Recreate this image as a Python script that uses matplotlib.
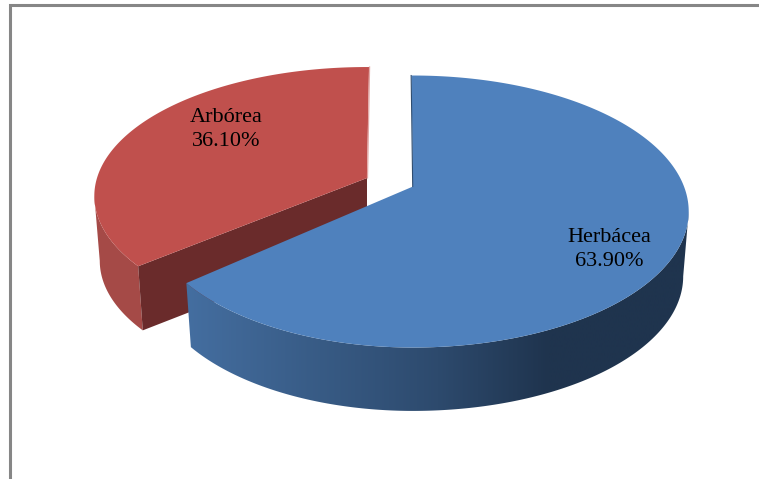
import numpy as np
import matplotlib
matplotlib.use("Agg")
import matplotlib.pyplot as plt
from matplotlib.patches import Polygon

plt.rcParams['font.family'] = ['Liberation Serif', 'DejaVu Serif']

labels = ['Herbácea', 'Arbórea']
shares = [63.90, 36.10]
pct_labels = ['63.90%', '36.10%']

BLUE = '#4f81bd'
RED = '#c0504d'
RED_SIDE = '#a54a47'
RED_CUT = '#6a2b2b'


def project(theta, cx, cy, ax_l, ax_r, b, k):
    # clockwise angle from 12 o'clock, seen through a simple perspective
    u = np.sin(theta)
    v = np.cos(theta)
    w = 1 + k * v
    a = np.where(u < 0, ax_l, ax_r)
    return cx + a * u / w, cy - b * v / w


def ring(theta, geo, depth=0):
    cx, cy, ax_l, ax_r, b, k = geo
    if depth:
        return project(theta, cx, cy + depth, ax_l * 0.98, ax_r * 0.98, b * 0.99, k)
    return project(theta, cx, cy, ax_l, ax_r, b, k)


fig = plt.figure(figsize=(7.59, 4.79), dpi=100)
ax = fig.add_axes([0, 0, 1, 1])
ax.axis('off')

# chart frame
ax.plot([9.5, 9.5, 759], [479, 5, 5], color='#868686', lw=2.2, solid_joinstyle='miter')

split = shares[0] / sum(shares) * 2 * np.pi
blue_geo = (413, 186.5, 262, 271, 131.4, 0.184)
red_geo = (367, 178, 270, 270, 126.5, 0.14)
blue_depth = 65
red_depth = 65

# exploded slice; its wall stops at the silhouette on the far left
t = np.linspace(split + np.radians(0.5), 2 * np.pi + np.radians(0.5), 200)
ux, uy = ring(t, red_geo)
t_wall = np.linspace(split + np.radians(0.5), 2 * np.pi - np.arccos(-red_geo[5]), 120)
wx, wy = ring(t_wall, red_geo)
lx, ly = ring(t_wall, red_geo, red_depth)
ax.add_patch(Polygon(np.r_[np.c_[wx, wy], np.c_[lx, ly][::-1]], fc=RED_SIDE, ec='none'))
ax.add_patch(Polygon([(red_geo[0], red_geo[1]), (ux[0], uy[0]), (lx[0], ly[0]),
                      (red_geo[0], red_geo[1] + red_depth)], fc=RED_CUT, ec='none'))
ax.add_patch(Polygon(np.r_[[(red_geo[0], red_geo[1])], np.c_[ux, uy]], fc=RED, ec='none'))
ax.plot([red_geo[0] + 0.5, ux[-1] + 0.5], [red_geo[1], uy[-1]], color='#e2a9a7', lw=0.9)

# main slice, side wall shaded left to right
t = np.linspace(np.radians(-0.4), split + np.radians(-0.4), 300)
ux, uy = ring(t, blue_geo)
t_wall = np.linspace(np.arccos(-blue_geo[5]), split + np.radians(-0.4), 200)
wx, wy = ring(t_wall, blue_geo)
lx, ly = ring(t_wall, blue_geo, blue_depth)
wall = Polygon(np.r_[np.c_[wx, wy], np.c_[lx, ly][::-1]], fc='none', ec='none')
ax.add_patch(wall)
shade = np.interp(np.linspace(0, 1, 256), [0, 0.5, 0.72, 1], [0, 0.62, 1, 1])
c0 = np.array([68, 110, 160]) / 255
c1 = np.array([31, 52, 78]) / 255
grad = c0[None, None, :] * (1 - shade[None, :, None]) + c1[None, None, :] * shade[None, :, None]
im = ax.imshow(grad, extent=[186, 690, 479, 0], aspect='auto', zorder=2, interpolation='bilinear')
im.set_clip_path(wall)
ax.add_patch(Polygon(np.r_[[(blue_geo[0], blue_geo[1])], np.c_[ux, uy]], fc=BLUE, ec='none', zorder=3))
ax.plot([ux[0] - 0.3, blue_geo[0] - 0.3], [uy[0], blue_geo[1]], color='#2f4d70', lw=0.8, zorder=3)

ax.set_xlim(0, 759)
ax.set_ylim(479, 0)

ax.text(609, 237.5, labels[0], fontsize=16, ha='center', va='center', color='black', zorder=4)
ax.text(609, 262, pct_labels[0], fontsize=16, ha='center', va='center', color='black', zorder=4)
ax.text(226, 117.5, labels[1], fontsize=16, ha='center', va='center', color='black', zorder=4)
ax.text(226, 142, pct_labels[1], fontsize=16, ha='center', va='center', color='black', zorder=4)

fig.savefig('out.png', dpi=100, facecolor='white')
